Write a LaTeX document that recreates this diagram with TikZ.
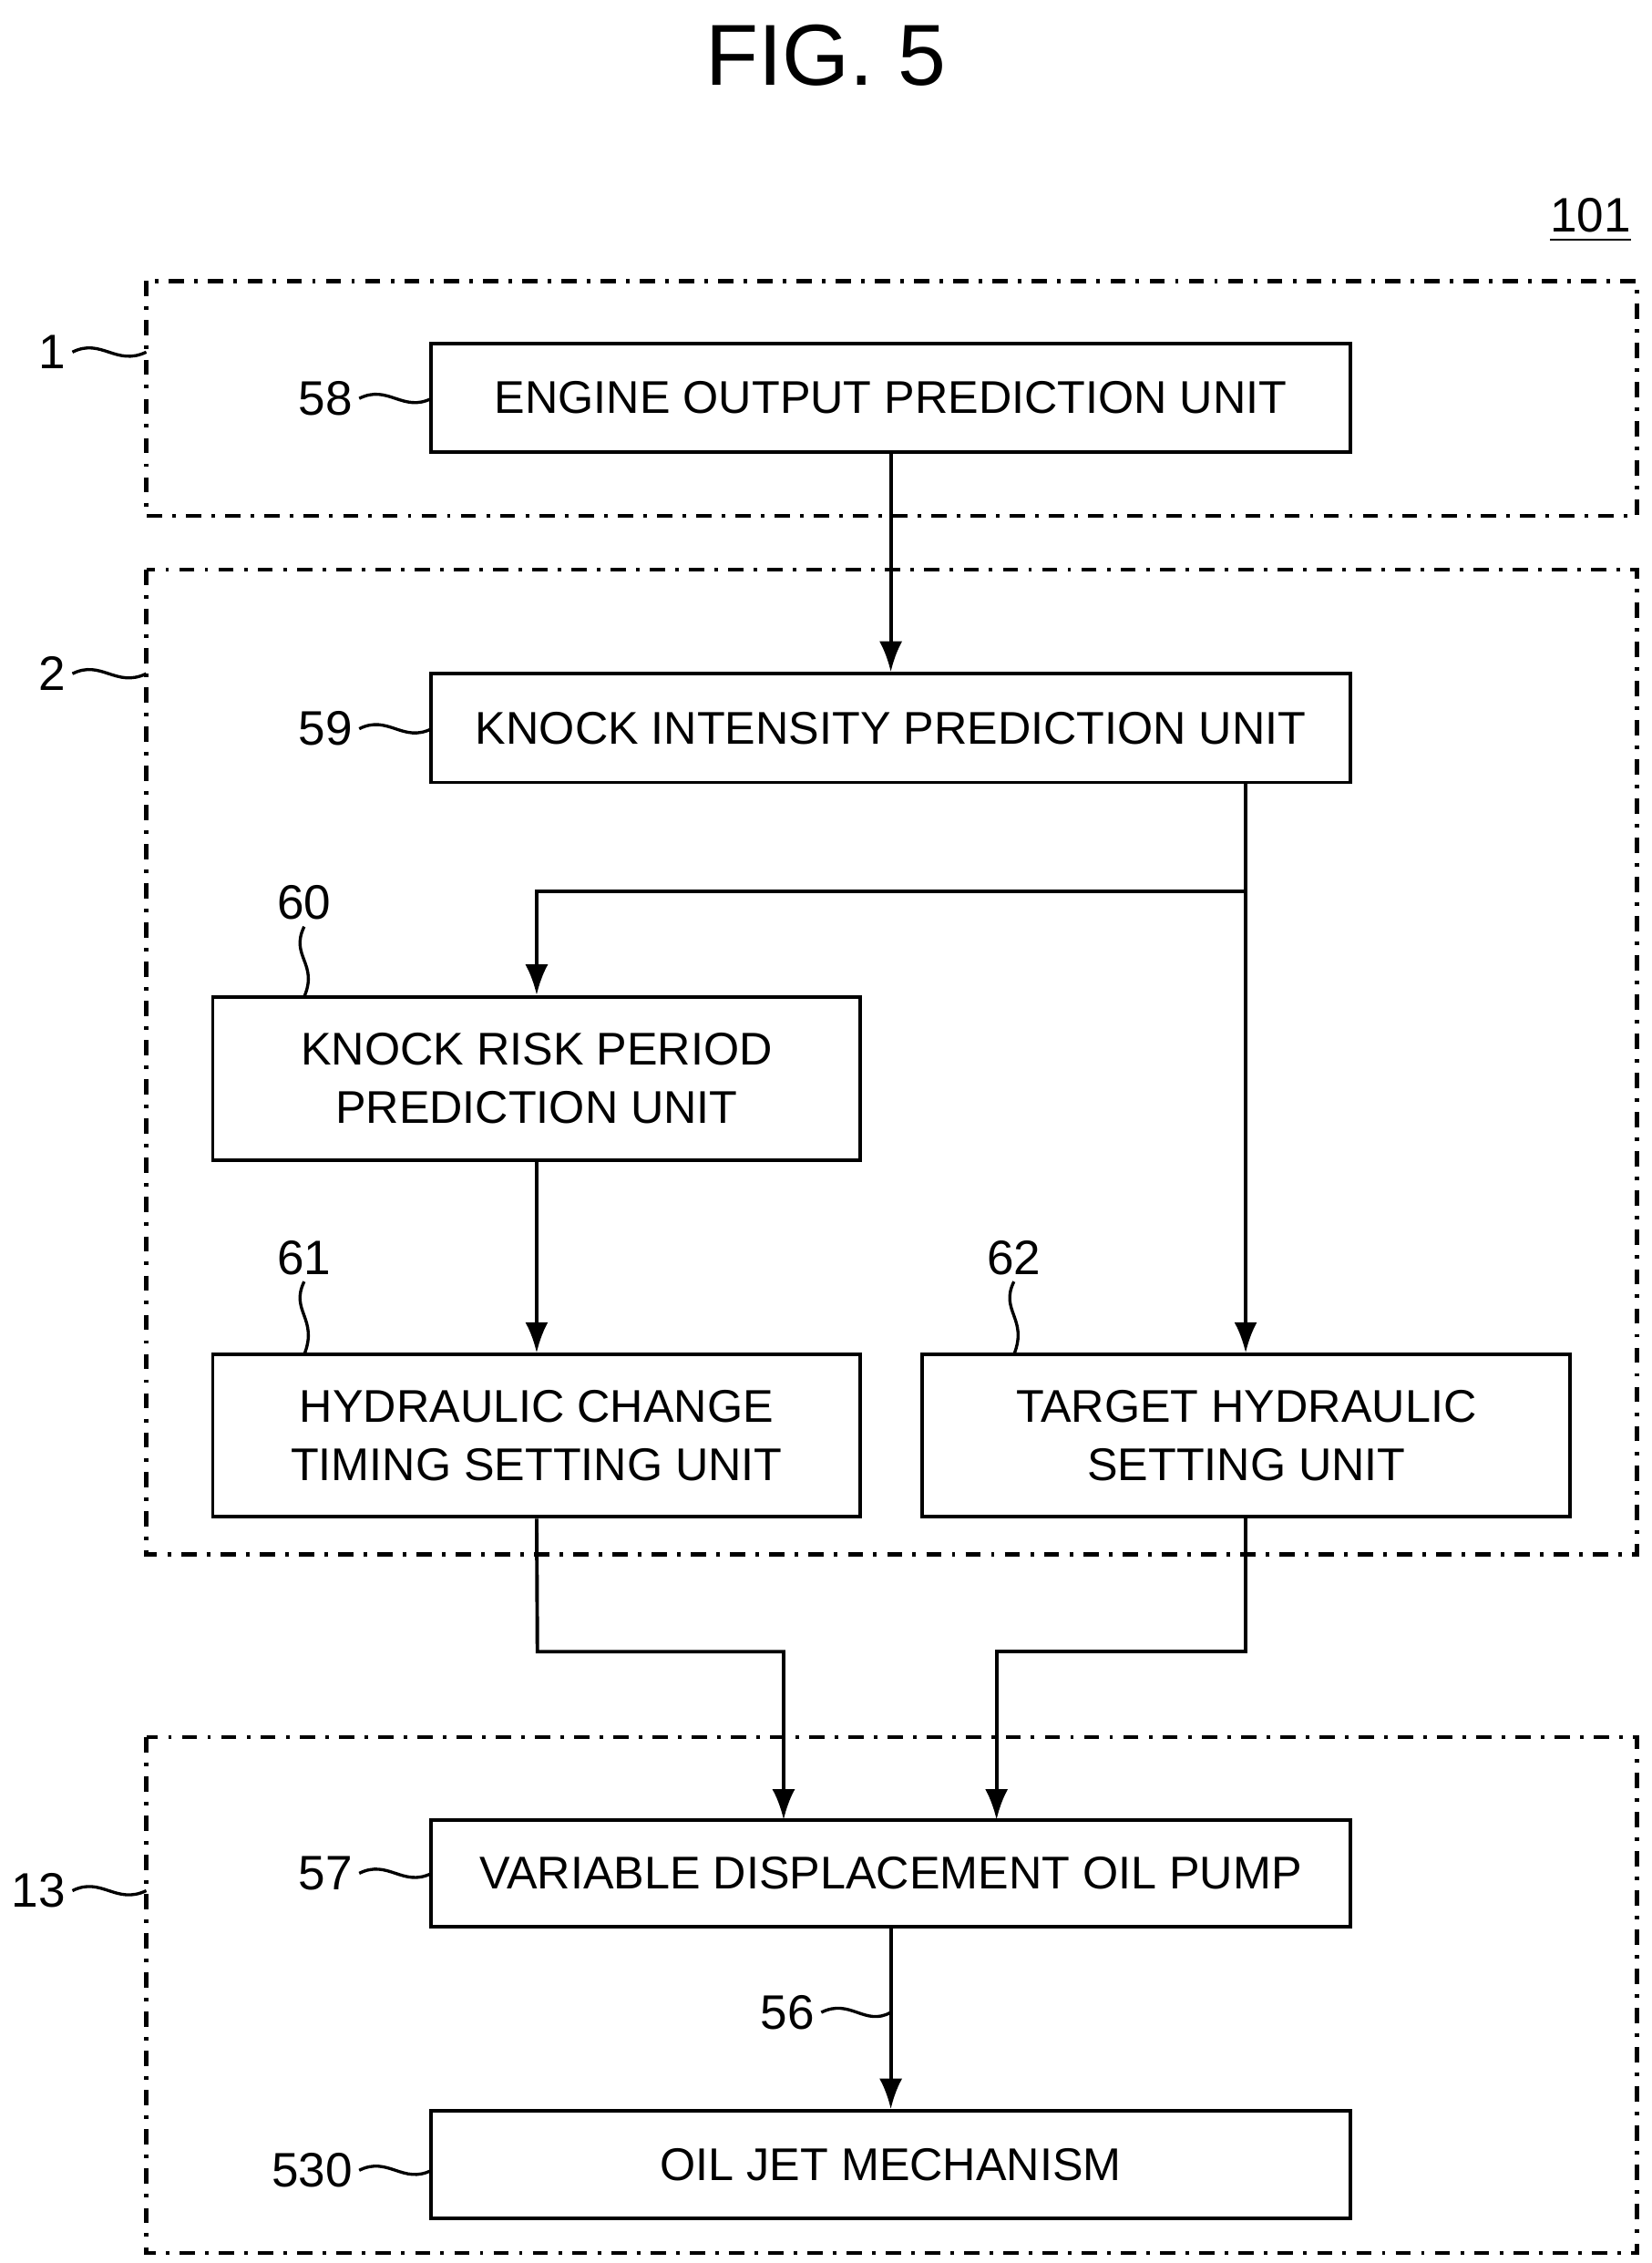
\documentclass[tikz,border=0pt]{standalone}
\usepackage{fontspec}
\setmainfont{Liberation Sans}
\usetikzlibrary{arrows.meta}
\begin{document}
\begin{tikzpicture}[x=0.01cm,y=-0.01cm,line width=0.7pt,
  box/.style={draw,rectangle,align=center,font=\fontsize{9}{11.5}\selectfont},
  grp/.style={draw,dash dot,line width=0.8pt},
  arr/.style={-{Latex[length=6pt,width=4.5pt]}},
  lbl/.style={font=\fontsize{9.5}{11}\selectfont,inner sep=1pt},
  lead/.style={line width=0.6pt}]
\useasboundingbox (0,0) rectangle (1140,1562);
\node[font=\fontsize{17}{20}\selectfont] (title) at (570,38) {FIG. 5};
\node[lbl] (n101) at (1098,152) {\underline{101}};
\draw[grp] (101,194) rectangle (1130,356);
\draw[grp] (101,393) rectangle (1130,1073);
\draw[grp] (101,1199) rectangle (1130,1555);
\node[box,minimum width=634\pgflinewidth,text width=0cm] at (-500,-500) {};
\path (298,237) coordinate (a1) (932,312) coordinate (a2);
\node[box,fit/.style={},minimum width=6.34cm,minimum height=0.75cm] (b58) at (615,274.5) {ENGINE OUTPUT PREDICTION UNIT};
\node[box,minimum width=6.34cm,minimum height=0.75cm] (b59) at (615,502.5) {KNOCK INTENSITY PREDICTION UNIT};
\node[box,minimum width=4.47cm,minimum height=1.13cm] (b60) at (370.5,744.5) {KNOCK RISK PERIOD\\PREDICTION UNIT};
\node[box,minimum width=4.47cm,minimum height=1.12cm] (b61) at (370.5,991) {HYDRAULIC CHANGE\\TIMING SETTING UNIT};
\node[box,minimum width=4.47cm,minimum height=1.12cm] (b62) at (860.5,991) {TARGET HYDRAULIC\\SETTING UNIT};
\node[box,minimum width=6.34cm,minimum height=0.74cm] (b57) at (615,1293) {VARIABLE DISPLACEMENT OIL PUMP};
\node[box,minimum width=6.34cm,minimum height=0.74cm] (b530) at (615,1494) {OIL JET MECHANISM};
\coordinate (j) at (860,615);
\draw[arr] (b58.south) -- (b59.north);
\draw[arr] (b59.south -| j) -- (b62.north -| j);
\draw[arr] (j) -| (b60.north);
\draw[arr] (b60.south) -- (b61.south |- b61.north);
\coordinate (p1) at (371,1140); \coordinate (p2) at (860,1140);
\draw[arr] (b61.south) -- (p1) -| (541,1256);
\draw[arr] (b62.south -| p2) -- (p2) -| (688,1256);
\draw[arr] (b57.south) -- (b530.north);
% side labels
\node[lbl,anchor=east] (l1) at (50,243) {1};
\draw[lead] (l1.east) .. controls (70,233) and (80,253) .. (101,243);
\node[lbl,anchor=east] (l2) at (50,465) {2};
\draw[lead] (l2.east) .. controls (70,455) and (80,475) .. (101,465);
\node[lbl,anchor=east] (l13) at (50,1305) {13};
\draw[lead] (l13.east) .. controls (70,1295) and (80,1315) .. (101,1305);
\node[lbl,anchor=east] (l58) at (248,275) {58};
\draw[lead] (l58.east) .. controls (268,265) and (278,285) .. (298,275);
\node[lbl,anchor=east] (l59) at (248,503) {59};
\draw[lead] (l59.east) .. controls (268,493) and (278,513) .. (298,503);
\node[lbl,anchor=east] (l57) at (248,1293) {57};
\draw[lead] (l57.east) .. controls (268,1283) and (278,1303) .. (298,1293);
\node[lbl,anchor=east] (l530) at (248,1498) {530};
\draw[lead] (l530.east) .. controls (268,1488) and (278,1508) .. (298,1498);
\node[lbl,anchor=east] (l56) at (567,1389) {56};
\draw[lead] (l56.east) .. controls (587,1379) and (597,1399) .. (615,1389);
\node[lbl] (l60) at (210,623) {60};
\draw[lead] (l60.south) .. controls (200,660) and (220,665) .. (210,688);
\node[lbl] (l61) at (210,868) {61};
\draw[lead] (l61.south) .. controls (200,905) and (220,910) .. (210,935);
\node[lbl] (l62) at (700,868) {62};
\draw[lead] (l62.south) .. controls (690,905) and (710,910) .. (700,935);
\end{tikzpicture}
\end{document}
